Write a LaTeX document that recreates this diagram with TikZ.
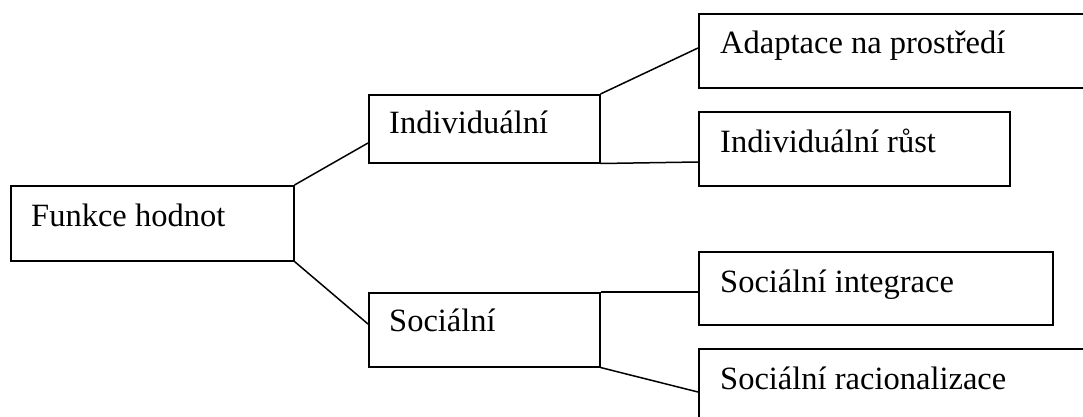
\documentclass[tikz,border=0pt]{standalone}
\usepackage{fontspec}
\setmainfont{Liberation Serif}
\begin{document}
\begin{tikzpicture}[x=1pt,y=-1pt,
  box/.style={draw, line width=1.5pt, inner sep=0pt, anchor=north west},
  txt/.style={anchor=base west, inner sep=0pt, font=\fontsize{32.5}{38}\selectfont},
  conn/.style={line width=1.5pt}]
\useasboundingbox (0,0) rectangle (1083,416);
\clip (0,0) rectangle (1083,416);
% boxes
\node[box, minimum width=283pt, minimum height=75pt] (f) at (10,185) {};
\node[box, minimum width=231pt, minimum height=68pt] (ind) at (368,94) {};
\node[box, minimum width=231pt, minimum height=74pt] (soc) at (368,292) {};
\node[box, minimum width=400pt, minimum height=74pt] (a1) at (698,13) {};
\node[box, minimum width=311pt, minimum height=74pt] (a2) at (698,111) {};
\node[box, minimum width=354pt, minimum height=73pt] (b1) at (698,251) {};
\node[box, minimum width=400pt, minimum height=80pt] (b2) at (698,348) {};
% texts
\node[txt] (ft) at (31,226) {Funkce hodnot};
\node[txt] (indt) at (389,133) {Individuální};
\node[txt] (soct) at (389,331) {Sociální};
\node[txt] (a1t) at (720,53) {Adaptace na prostředí};
\node[txt] (a2t) at (720,152) {Individuální růst};
\node[txt] (b1t) at (720,292) {Sociální integrace};
\node[txt] (b2t) at (720,389) {Sociální racionalizace};
% connector end points on box borders
\coordinate (indL) at (368,143);
\coordinate (socL) at (368,324);
\coordinate (a1L) at (698,48);
\coordinate (a2L) at (698,162);
\coordinate (b1L) at (698,292);
\coordinate (b2L) at (698,392);
% connectors
\draw[conn] (f.north east) -- (indL);
\draw[conn] (f.south east) -- (socL);
\draw[conn] (ind.north east) -- (a1L);
\draw[conn] (ind.south east) -- (a2L);
\draw[conn] (soc.north east) -- (b1L);
\draw[conn] (soc.south east) -- (b2L);
\end{tikzpicture}
\end{document}
